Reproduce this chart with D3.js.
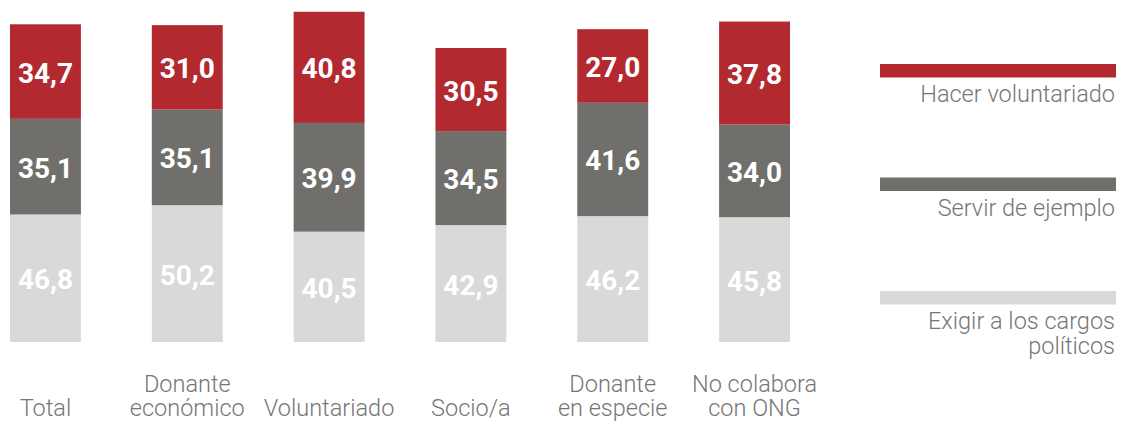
<!DOCTYPE html>
<html>
<head>
<meta charset="utf-8">
<script src="https://cdn.jsdelivr.net/npm/d3@7"></script>
<style>
  html, body { margin: 0; padding: 0; background: #fff; }
  svg { display: block; }
</style>
</head>
<body>
<svg id="chart" width="1121" height="421"></svg>
<script>
// Categories (each entry is one or more label lines)
const categories = ["Total", "Donante económico", "Voluntariado", "Socio/a", "Donante en especie", "No colabora con ONG"];
const categoryLines = [["Total"], ["Donante", "económico"], ["Voluntariado"], ["Socio/a"], ["Donante", "en especie"], ["No colabora", "con ONG"]];

// Series values, stacked bottom to top
const exigir = [46.8, 50.2, 40.5, 42.9, 46.2, 45.8];
const servir = [35.1, 35.1, 39.9, 34.5, 41.6, 34.0];
const hacer  = [34.7, 31.0, 40.8, 30.5, 27.0, 37.8];

const seriesNames = ["Exigir a los cargos políticos", "Servir de ejemplo", "Hacer voluntariado"];
const legendLines = [["Hacer voluntariado"], ["Servir de ejemplo"], ["Exigir a los cargos", "políticos"]];

const colors = {
  "Exigir a los cargos políticos": "#d9d9d9",
  "Servir de ejemplo": "#706f6c",
  "Hacer voluntariado": "#b22a30"
};

const rows = categories.map((c, i) => ({
  cat: c,
  "Exigir a los cargos políticos": exigir[i],
  "Servir de ejemplo": servir[i],
  "Hacer voluntariado": hacer[i]
}));

const svg = d3.select("#chart");

const x = d3.scaleBand()
  .domain(categories)
  .range([10, 790])
  .paddingInner(0.5)
  .paddingOuter(0);

const y = d3.scaleLinear()
  .domain([0, 125])
  .range([342, 1.4]);

const stack = d3.stack().keys(seriesNames);
const layers = stack(rows);

const fmt = v => d3.format(".1f")(v).replace(".", ",");

const g = svg.append("g");

layers.forEach(layer => {
  const lg = g.append("g").attr("fill", colors[layer.key]);
  lg.selectAll("rect")
    .data(layer)
    .join("rect")
    .attr("x", d => x(d.data.cat))
    .attr("width", x.bandwidth())
    .attr("y", d => y(d[1]))
    .attr("height", d => y(d[0]) - y(d[1]));

  g.append("g")
    .selectAll("text")
    .data(layer)
    .join("text")
    .attr("x", d => x(d.data.cat) + x.bandwidth() / 2)
    .attr("y", d => (y(d[0]) + y(d[1])) / 2 + 11)
    .attr("text-anchor", "middle")
    .attr("font-family", "Roboto, 'Noto Sans', sans-serif")
    .attr("font-weight", 700)
    .attr("font-size", 28)
    .attr("fill", "#ffffff")
    .text(d => fmt(d[1] - d[0]));
});

// Category labels, bottom-aligned
const catG = svg.append("g")
  .attr("font-family", "Roboto, 'Noto Sans', sans-serif")
  .attr("font-weight", 300)
  .attr("font-size", 23.5)
  .attr("fill", "#767676")
  .attr("text-anchor", "middle");

categories.forEach((c, i) => {
  const lines = categoryLines[i];
  const t = catG.append("text")
    .attr("x", x(c) + x.bandwidth() / 2)
    .attr("y", 416 - (lines.length - 1) * 24);
  lines.forEach((ln, j) => {
    t.append("tspan")
      .attr("x", x(c) + x.bandwidth() / 2)
      .attr("dy", j === 0 ? 0 : 24)
      .text(ln);
  });
});

// Legend
const legendOrder = seriesNames.slice().reverse();
const legG = svg.append("g")
  .attr("font-family", "Roboto, 'Noto Sans', sans-serif")
  .attr("font-weight", 300)
  .attr("font-size", 23.5)
  .attr("fill", "#767676")
  .attr("text-anchor", "end");

legendOrder.forEach((key, i) => {
  const top = 64 + i * 113.5;
  legG.append("rect")
    .attr("x", 880)
    .attr("y", top)
    .attr("width", 236)
    .attr("height", 13.5)
    .attr("fill", colors[key]);
  const t = legG.append("text").attr("y", top + 38);
  legendLines[i].forEach((ln, j) => {
    t.append("tspan")
      .attr("x", 1115)
      .attr("dy", j === 0 ? 0 : 25)
      .text(ln);
  });
});
</script>
</body>
</html>
